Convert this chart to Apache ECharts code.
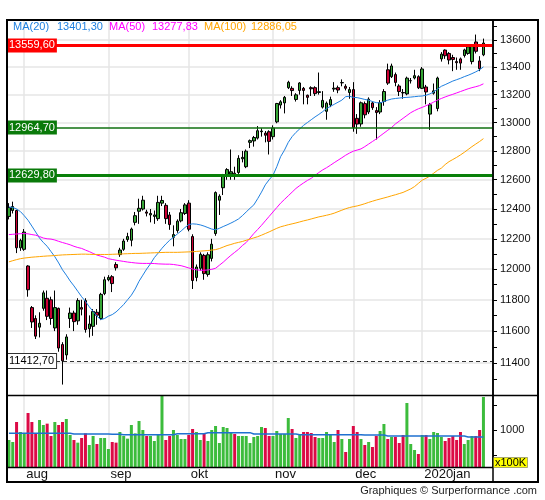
<!DOCTYPE html>
<html><head><meta charset="utf-8">
<script src="https://cdn.jsdelivr.net/npm/echarts@6/dist/echarts.min.js"></script>
<style>html,body{margin:0;padding:0;background:#fff}#c{width:545px;height:500px}</style>
</head><body><div id="c"></div>
<script>
const dates = [
'2019-07-26','2019-07-29','2019-07-30','2019-07-31',
'2019-08-01','2019-08-02','2019-08-05','2019-08-06','2019-08-07','2019-08-08','2019-08-09','2019-08-12','2019-08-13','2019-08-14','2019-08-15','2019-08-16','2019-08-19','2019-08-20','2019-08-21','2019-08-22','2019-08-23','2019-08-26','2019-08-27','2019-08-28','2019-08-29','2019-08-30',
'2019-09-02','2019-09-03','2019-09-04','2019-09-05','2019-09-06','2019-09-09','2019-09-10','2019-09-11','2019-09-12','2019-09-13','2019-09-16','2019-09-17','2019-09-18','2019-09-19','2019-09-20','2019-09-23','2019-09-24','2019-09-25','2019-09-26','2019-09-27','2019-09-30',
'2019-10-01','2019-10-02','2019-10-04','2019-10-07','2019-10-08','2019-10-09','2019-10-10','2019-10-11','2019-10-14','2019-10-15','2019-10-16','2019-10-17','2019-10-18','2019-10-21','2019-10-22','2019-10-23','2019-10-24','2019-10-25','2019-10-28','2019-10-29','2019-10-30','2019-10-31',
'2019-11-01','2019-11-04','2019-11-05','2019-11-06','2019-11-07','2019-11-08','2019-11-11','2019-11-12','2019-11-13','2019-11-14','2019-11-15','2019-11-18','2019-11-19','2019-11-20','2019-11-21','2019-11-22','2019-11-25','2019-11-26','2019-11-27','2019-11-28','2019-11-29',
'2019-12-02','2019-12-03','2019-12-04','2019-12-05','2019-12-06','2019-12-09','2019-12-10','2019-12-11','2019-12-12','2019-12-13','2019-12-16','2019-12-17','2019-12-18','2019-12-19','2019-12-20','2019-12-23','2019-12-27','2019-12-30',
'2020-01-02','2020-01-03','2020-01-06','2020-01-07','2020-01-08','2020-01-09','2020-01-10','2020-01-13','2020-01-14','2020-01-15','2020-01-16','2020-01-17','2020-01-20','2020-01-21','2020-01-22','2020-01-23','2020-01-24'
];
const emptySlots = [' ', '  '];

const opens = [
12350,12390,12390,12140,12130,12020,11750,11680,11625,11745,
11810,11800,11620,11745,11515,11450,11680,11715,11665,11750,
11795,11615,11630,11720,11680,11840,11930,11950,12030,12095,
12130,12195,12190,12310,12385,12400,12380,12360,12350,12335,
12440,12425,12360,12210,12255,12320,12370,12440,12215,11945,
12005,12090,11965,12070,12235,12460,12545,12635,12640,12645,
12650,12745,12690,12860,12870,12890,12935,12925,12935,12900,
13005,13125,13140,13250,13245,13165,13230,13245,13195,13250,
13250,13215,13110,13080,13125,13240,13250,13285,13260,13215,
13236,13030,12990,13135,13075,13140,13085,13075,13150,13380,
13330,13345,13262,13215,13205,13300,13320,13330,13245,13255,
13060,13210,13100,13460,13525,13500,13470,13440,13460,13485,
13500,13440,13585,13445,13490];
const closes = [
12410,12417,12140,12189,12245,11865,11658,11568,11650,11845,
11694,11680,11750,11493,11413,11563,11715,11660,11795,11740,
11610,11645,11725,11701,11835,11930,11945,11905,12008,12125,
12185,12215,12265,12355,12405,12460,12372,12370,12360,12445,
12458,12335,12295,12228,12318,12375,12428,12264,11925,12013,
12097,11970,12094,12164,12512,12487,12630,12670,12655,12634,
12748,12755,12798,12872,12894,12942,12940,12910,12867,12961,
13136,13148,13180,13289,13229,13198,13284,13230,13180,13242,
13207,13221,13158,13138,13164,13246,13233,13287,13246,13236,
12965,12989,13141,13055,13167,13106,13071,13141,13222,13283,
13408,13288,13222,13212,13319,13301,13337,13249,13386,13219,
13127,13227,13320,13495,13483,13452,13456,13432,13429,13526,
13549,13556,13516,13388,13577];
const lows = [
12330,12370,12105,12120,12120,11820,11620,11550,11560,11730,
11670,11640,11600,11470,11266,11420,11620,11600,11640,11700,
11590,11560,11570,11640,11670,11830,11920,11850,11990,12080,
12120,12180,12150,12290,12300,12390,12350,12310,12300,12320,
12420,12300,12260,12150,12240,12310,12360,12250,11870,11920,
11990,11930,11950,12050,12220,12360,12495,12600,12600,12600,
12640,12720,12680,12820,12830,12880,12900,12860,12775,12880,
12995,13100,13065,13240,13190,13150,13200,13130,13130,13190,
13190,13200,13100,13020,13110,13220,13210,13260,13230,13170,
12935,12920,12970,13030,13060,13090,12880,13060,13120,13270,
13320,13260,13190,13170,13195,13280,13310,13240,13240,13130,
12948,13200,13080,13440,13460,13420,13370,13380,13380,13470,
13490,13420,13500,13370,13480];
const highs = [
12440,12450,12395,12200,12265,12025,11760,11700,11720,11860,
11860,11820,11860,11750,11530,11580,11750,11730,11810,11800,
11810,11700,11740,11740,11845,11950,11960,11960,12045,12140,
12200,12240,12275,12380,12470,12490,12395,12400,12390,12490,
12490,12440,12380,12290,12330,12400,12440,12460,12230,12030,
12110,12100,12110,12200,12520,12500,12640,12680,12810,12690,
12770,12800,12810,12880,12905,12975,12960,12940,12945,12980,
13140,13160,13190,13300,13260,13210,13290,13255,13200,13260,
13260,13360,13225,13150,13185,13290,13265,13310,13275,13255,
13290,13060,13150,13150,13180,13150,13110,13160,13240,13425,
13425,13360,13275,13240,13330,13320,13380,13340,13400,13270,
13140,13280,13330,13510,13530,13510,13490,13470,13470,13535,
13555,13565,13640,13480,13610];

const volumes = [
800,760,1160,960,933,1340,1160,933,1200,1100,
1127,880,1160,1100,1160,1220,900,800,747,840,
933,700,880,720,840,840,620,760,747,960,
880,827,1100,933,1180,1000,880,880,780,900,
1687,800,880,1000,900,820,820,900,1020,960,
800,940,780,1000,1080,740,1060,1040,940,920,
880,880,880,740,860,880,1060,1040,880,880,
980,920,920,1240,1020,840,920,960,960,940,
860,840,840,960,900,760,1000,820,560,820,
1080,960,820,700,760,660,880,980,1120,820,
860,860,740,900,1540,720,600,520,900,900,
820,960,940,860,780,840,880,800,960,720,
800,880,880,1000,1660];
const volumeAvg = [
933,933,933,933,933,933,933,933,933,933,
933,933,933,933,933,933,933,920,920,920,
920,920,920,920,920,920,920,913,913,913,
907,907,907,907,907,907,907,907,907,907,
907,907,907,907,927,927,927,927,927,927,
927,927,947,947,947,947,947,947,947,947,
947,947,947,947,920,920,920,920,920,920,
920,920,920,920,920,920,907,907,907,907,
907,907,907,907,907,907,907,907,907,907,
907,907,907,900,900,900,900,900,900,880,
880,880,880,880,880,880,880,880,880,880,
880,880,880,880,880,880,880,880,880,880,
860,860,860,860,860];

const ma20 = [
12414,12411,12400,12383,12355,12324,12285,12245,12205,12175,
12150,12115,12081,12040,11995,11960,11922,11890,11855,11820,
11790,11755,11725,11695,11673,11680,11695,11705,11722,11745,
11770,11800,11830,11870,11920,11960,12000,12035,12075,12105,
12137,12165,12190,12210,12232,12252,12275,12295,12300,12298,
12293,12285,12275,12265,12260,12270,12282,12293,12305,12318,
12333,12355,12380,12405,12428,12470,12515,12565,12600,12630,
12690,12760,12805,12860,12900,12930,12955,12980,13000,13020,
13040,13058,13078,13100,13115,13130,13145,13160,13185,13188,
13180,13178,13172,13165,13160,13150,13142,13140,13150,13160,
13168,13172,13175,13178,13180,13182,13185,13188,13190,13195,
13205,13219,13240,13260,13272,13285,13298,13308,13318,13330,
13340,13352,13365,13380,13401.30];
const ma50 = [
12228,12230,12232,12234,12235,12233,12228,12224,12215,12205,
12200,12198,12192,12183,12175,12168,12160,12150,12142,12136,
12125,12115,12103,12092,12085,12078,12068,12063,12058,12054,
12050,12046,12043,12040,12038,12037,12037,12037,12036,12034,
12033,12032,12032,12030,12026,12022,12015,12007,12000,11995,
11992,11992,11994,11998,12005,12025,12045,12068,12090,12110,
12130,12155,12175,12205,12235,12262,12290,12320,12350,12380,
12410,12440,12465,12490,12515,12540,12560,12578,12595,12610,
12630,12650,12668,12683,12700,12718,12735,12752,12770,12785,
12798,12806,12814,12830,12848,12866,12884,12905,12925,12945,
12965,12990,13010,13030,13050,13070,13085,13098,13108,13120,
13132,13146,13160,13172,13183,13193,13202,13212,13222,13232,
13242,13250,13257,13265,13277.83];
const ma100 = [
12047,12055,12062,12068,12072,12075,12078,12080,12082,12084,
12086,12087,12089,12091,12093,12094,12095,12096,12097,12098,
12098,12097,12096,12096,12096,12096,12096,12097,12098,12099,
12100,12101,12102,12103,12103,12104,12105,12106,12107,12108,
12109,12110,12110,12110,12110,12111,12112,12113,12114,12116,
12118,12120,12122,12125,12128,12135,12145,12155,12162,12170,
12176,12182,12190,12198,12206,12214,12224,12235,12246,12258,
12270,12280,12287,12294,12300,12306,12313,12320,12326,12333,
12340,12347,12352,12358,12364,12372,12382,12392,12402,12410,
12416,12421,12428,12436,12445,12453,12461,12468,12475,12482,
12490,12497,12505,12513,12525,12537,12553,12575,12597,12610,
12625,12645,12665,12680,12705,12725,12740,12755,12772,12790,
12810,12830,12848,12866,12886.05];

const priceTicks = [11300,11400,11500,11600,11700,11800,11900,12000,12100,12200,12300,12400,12500,12600,12700,12800,12900,13000,13100,13200,13300,13400,13500,13600,13700];
const priceLabels = [11400,11600,11800,12000,12200,12400,12600,12800,13000,13200,13400,13600];
const volTicks = [500,1000,1500];
const volLabels = [1000];
const monthStarts = ['2019-08-01','2019-09-02','2019-10-01','2019-11-01','2019-12-02','2020-01-02'];
const monthLabels = ['aug','sep','okt','nov','dec','2020jan'];
const levelValues = [13559.60, 12964.70, 12629.80, 11412.70];

const priceMin = 11202, priceMax = 13749;
const volMin = 260, volMax = 1700;

const FONT = 'Liberation Sans, Arial, sans-serif';
const L = v => Math.log(v);
const fmt2 = v => v.toFixed(2).replace('.', ',');
const cats = dates.concat(emptySlots);
const monthSet = monthStarts.map(d => dates.indexOf(d));
const isMonth = i => monthSet.indexOf(i) >= 0;

const UP = '#35a535', DOWN = '#cc0033';
const VUP = '#3cbc3c', VDOWN = '#dc0a46';

const candleData = dates.map((d, i) => [L(opens[i]), L(closes[i]), L(lows[i]), L(highs[i])]);
const volData = volumes.map((v, i) => ({ value: v, itemStyle: { color: closes[i] >= opens[i] ? VUP : VDOWN } }));

const levelStyles = [
  { line: { color: '#ff0000', width: 3, type: 'solid' }, label: { color: '#fff', backgroundColor: '#ff0000' } },
  { line: { color: '#107010', width: 1.5, type: 'solid' }, label: { color: '#fff', backgroundColor: '#0a7a0a' } },
  { line: { color: '#0a800a', width: 3, type: 'solid' }, label: { color: '#fff', backgroundColor: '#0a7a0a' } },
  { line: { color: '#333', width: 1, type: [4, 3] }, label: { color: '#000', backgroundColor: '#fff', borderColor: '#333', borderWidth: 1 } }
];
const levelData = levelValues.map((v, i) => ({
  yAxis: L(v),
  lineStyle: levelStyles[i].line,
  label: Object.assign({ show: true, position: 'insideStart', distance: 0, formatter: fmt2(v), fontSize: 11, fontFamily: FONT, padding: [1, 2, 1, 2], lineHeight: 12 }, levelStyles[i].label)
}));

const monthSplit = { show: true, interval: (i) => isMonth(i), alignWithLabel: true, lineStyle: { color: '#e6e6e6', width: 1.5 } };

const legendItems = [
  { text: 'MA(20)', x: 13, color: '#1f80e0' },
  { text: fmt2(ma20[ma20.length - 1]), x: 57, color: '#1f80e0' },
  { text: 'MA(50)', x: 109, color: '#ff00ff' },
  { text: fmt2(ma50[ma50.length - 1]), x: 152, color: '#ff00ff' },
  { text: 'MA(100)', x: 204, color: '#ffa500' },
  { text: fmt2(ma100[ma100.length - 1]), x: 251, color: '#ffa500' }
];

const chart = echarts.init(document.getElementById('c'), null, { renderer: 'canvas' });
chart.setOption({
  animation: false,
  backgroundColor: '#fff',
  textStyle: { fontFamily: FONT },
  grid: [
    { left: 7, width: 486, top: 20, height: 375 },
    { left: 7, width: 486, top: 395, height: 72 }
  ],
  xAxis: [
    { type: 'category', gridIndex: 0, data: cats, boundaryGap: true,
      axisLine: { show: false }, axisTick: { show: false }, axisLabel: { show: false }, splitLine: monthSplit },
    { type: 'category', gridIndex: 1, data: cats, boundaryGap: true,
      axisLine: { show: false }, axisTick: { show: false },
      axisLabel: { show: true, interval: (i) => isMonth(i), formatter: (v) => monthLabels[monthStarts.indexOf(v)] || '',
        align: 'left', margin: 1, fontSize: 13, color: '#111', fontFamily: FONT, padding: [0, 0, 0, 2] },
      splitLine: monthSplit }
  ],
  yAxis: [
    { type: 'value', gridIndex: 0, position: 'right', min: L(priceMin), max: L(priceMax),
      axisLine: { show: true, lineStyle: { color: '#000', width: 1.5 } },
      axisTick: { show: true, length: 4, customValues: priceTicks.map(L), lineStyle: { color: '#000' } },
      axisLabel: { show: true, customValues: priceLabels.map(L), formatter: (v) => String(Math.round(Math.exp(v))),
        fontSize: 11, color: '#111', margin: 7, fontFamily: FONT },
      splitLine: { show: false } },
    { type: 'value', gridIndex: 0, position: 'right', min: L(priceMin), max: L(priceMax),
      axisLine: { show: false }, axisTick: { show: false, customValues: priceLabels.map(L) },
      axisLabel: { show: false, customValues: priceLabels.map(L) },
      splitLine: { show: true, lineStyle: { color: '#e6e6e6', width: 1.5 } } },
    { type: 'value', gridIndex: 1, position: 'right', min: volMin, max: volMax,
      axisLine: { show: true, lineStyle: { color: '#000', width: 1.5 } },
      axisTick: { show: true, length: 4, customValues: volTicks, lineStyle: { color: '#000' } },
      axisLabel: { show: true, customValues: volLabels, formatter: (v) => String(v), fontSize: 11, color: '#111', margin: 7, fontFamily: FONT },
      splitLine: { show: false } }
  ],
  series: [
    { name: 'levels', type: 'line', xAxisIndex: 0, yAxisIndex: 0, data: [], z: 1,
      markLine: { silent: true, precision: 10, symbol: ['none', 'none'], data: levelData, animation: false } },
    { name: 'price', type: 'candlestick', xAxisIndex: 0, yAxisIndex: 0, data: candleData, barWidth: 3, z: 3,
      itemStyle: { color: UP, color0: DOWN, borderColor: '#000', borderColor0: '#000', borderWidth: 1 } },
    { name: 'MA20', type: 'line', xAxisIndex: 0, yAxisIndex: 0, data: ma20.map(L), symbol: 'none', z: 4,
      lineStyle: { color: '#1f80e0', width: 1 } },
    { name: 'MA50', type: 'line', xAxisIndex: 0, yAxisIndex: 0, data: ma50.map(L), symbol: 'none', z: 4,
      lineStyle: { color: '#ff00ff', width: 1 } },
    { name: 'MA100', type: 'line', xAxisIndex: 0, yAxisIndex: 0, data: ma100.map(L), symbol: 'none', z: 4,
      lineStyle: { color: '#ffa500', width: 1 } },
    { name: 'volume', type: 'bar', xAxisIndex: 1, yAxisIndex: 2, data: volData, barWidth: 3, z: 3 },
    { name: 'volAvg', type: 'line', xAxisIndex: 1, yAxisIndex: 2, data: volumeAvg, symbol: 'none', z: 4,
      lineStyle: { color: '#1f70d0', width: 1.5 } }
  ],
  graphic: [
    { type: 'rect', shape: { x: 7, y: 20, width: 531, height: 462 }, style: { fill: 'none', stroke: '#000', lineWidth: 2 }, z: 100 },
    { type: 'line', shape: { x1: 7, y1: 395.5, x2: 538, y2: 395.5 }, style: { stroke: '#000', lineWidth: 1.5 }, z: 100 },
    { type: 'line', shape: { x1: 7, y1: 467.5, x2: 493, y2: 467.5 }, style: { stroke: '#000', lineWidth: 1.5 }, z: 100 },
    { type: 'line', shape: { x1: 493, y1: 20, x2: 493, y2: 482 }, style: { stroke: '#000', lineWidth: 1.5 }, z: 100 },
    { type: 'rect', shape: { x: 493.5, y: 457.5, width: 34, height: 10 }, style: { fill: '#ffff00', stroke: '#555', lineWidth: 0.5 }, z: 101 },
    { type: 'text', x: 510.5, y: 463, style: { text: 'x100K', fill: '#000', font: '11px ' + FONT, textAlign: 'center', textVerticalAlign: 'middle' }, z: 102 },
    { type: 'text', x: 537, y: 491, style: { text: 'Graphiques \u00a9 Surperformance .com', fill: '#222', font: '11px ' + FONT, textAlign: 'right', textVerticalAlign: 'middle' }, z: 102 }
  ].concat(legendItems.map(it => ({
    type: 'text', x: it.x, y: 27, z: 102,
    style: { text: it.text, fill: it.color, font: '11px ' + FONT, textAlign: 'left', textVerticalAlign: 'middle' }
  })))
});
</script>
</body></html>
